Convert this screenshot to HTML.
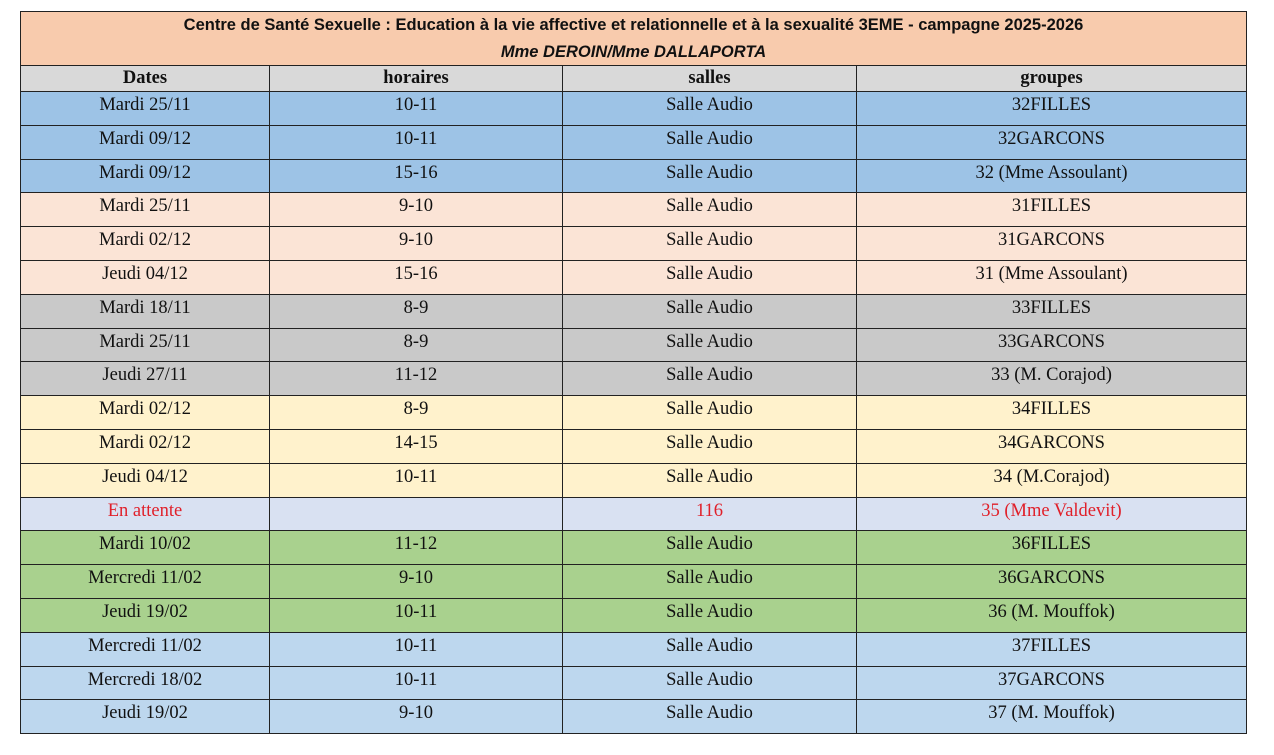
<!DOCTYPE html>
<html><head><meta charset="utf-8"><style>
body{margin:0;background:#fff;width:1274px;height:755px;overflow:hidden;position:relative;font-family:"Liberation Serif",serif;}
.t{position:absolute;left:20px;top:11px;width:1227px;height:55px;background:#f8cbad;border:1px solid #222;box-sizing:border-box;font-family:"Liberation Sans",sans-serif;font-weight:bold;font-size:16.5px;text-align:center;color:#111}
.r{position:absolute;left:20px;width:1227px;box-sizing:border-box;border-left:1px solid #222;border-right:1px solid #222;border-bottom:1px solid #222;display:flex}
.r div{box-sizing:border-box;text-align:center;font-size:18.5px;padding-top:3px;color:#111;border-right:1px solid #222;white-space:nowrap}
.r div:last-child{border-right:none}
.c1{width:249px}.c2{width:293px}.c3{width:294px}.c4{flex:1}
.red div{color:#e0202a}
</style></head><body>
<div class="t"><div style="margin-top:3px;line-height:20px">Centre de Santé Sexuelle : Education à la vie affective et relationnelle et à la sexualité 3EME - campagne 2025-2026</div><div style="font-style:italic;margin-top:7px;line-height:20px">Mme DEROIN/Mme DALLAPORTA</div></div>
<div class="r" style="top:66px;height:26px;background:#d9d9d9"><div class="c1" style="font-weight:bold;padding-top:2px">Dates</div><div class="c2" style="font-weight:bold;padding-top:2px">horaires</div><div class="c3" style="font-weight:bold;padding-top:2px">salles</div><div class="c4" style="font-weight:bold;padding-top:2px">groupes</div></div>
<div id="rows"></div>
<script>
var d=[["Mardi 25/11","10-11","Salle Audio","32FILLES","#9dc3e6"],
["Mardi 09/12","10-11","Salle Audio","32GARCONS","#9dc3e6"],
["Mardi 09/12","15-16","Salle Audio","32 (Mme Assoulant)","#9dc3e6"],
["Mardi 25/11","9-10","Salle Audio","31FILLES","#fbe4d6"],
["Mardi 02/12","9-10","Salle Audio","31GARCONS","#fbe4d6"],
["Jeudi 04/12","15-16","Salle Audio","31 (Mme Assoulant)","#fbe4d6"],
["Mardi 18/11","8-9","Salle Audio","33FILLES","#c9c9c9"],
["Mardi 25/11","8-9","Salle Audio","33GARCONS","#c9c9c9"],
["Jeudi 27/11","11-12","Salle Audio","33 (M. Corajod)","#c9c9c9"],
["Mardi 02/12","8-9","Salle Audio","34FILLES","#fff2cc"],
["Mardi 02/12","14-15","Salle Audio","34GARCONS","#fff2cc"],
["Jeudi 04/12","10-11","Salle Audio","34 (M.Corajod)","#fff2cc"],
["En attente","","116","35 (Mme Valdevit)","#d9e1f2"],
["Mardi 10/02","11-12","Salle Audio","36FILLES","#a9d18e"],
["Mercredi 11/02","9-10","Salle Audio","36GARCONS","#a9d18e"],
["Jeudi 19/02","10-11","Salle Audio","36 (M. Mouffok)","#a9d18e"],
["Mercredi 11/02","10-11","Salle Audio","37FILLES","#bdd7ee"],
["Mercredi 18/02","10-11","Salle Audio","37GARCONS","#bdd7ee"],
["Jeudi 19/02","9-10","Salle Audio","37 (M. Mouffok)","#bdd7ee"]];
var h="";
for(var i=0;i<d.length;i++){var t=92+i*33.8;
h+='<div class="r'+(i==12?' red':'')+'" style="top:'+t+'px;height:33.8px;background:'+d[i][4]+'"><div class="c1">'+d[i][0]+'</div><div class="c2">'+d[i][1]+'</div><div class="c3">'+d[i][2]+'</div><div class="c4">'+d[i][3]+'</div></div>';}
document.getElementById("rows").innerHTML=h;
</script>
</body></html>
